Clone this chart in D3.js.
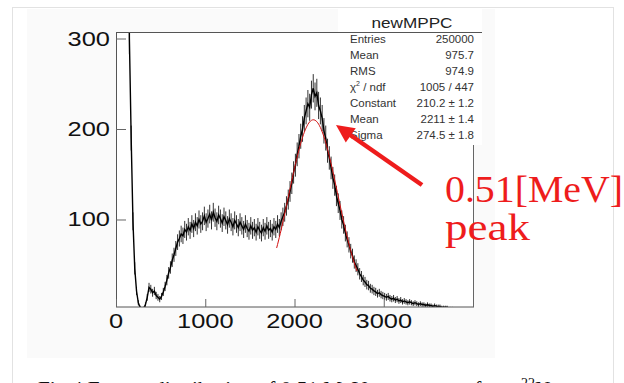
<!DOCTYPE html>
<html><head><meta charset="utf-8">
<script src="https://cdn.jsdelivr.net/npm/d3@7"></script>
<style>html,body{margin:0;padding:0;background:#fff;}svg{display:block;}</style>
</head><body>
<svg id="c" width="624" height="383"></svg>
<script>
// ---- data ----
const binWidth = 20;
const binStart = 0;
const counts = [
 900,2500,3000,2600,1900,1200,650,300,190,98,
 46,21,8,3,1,2,6,14,25,23,
 19,21,16,14,12,15,20,26,33,41,
 47,55,61,68,75,79,84,82,89,86,
 92,88,95,90,97,93,100,95,98,104,
 97,101,106,99,108,102,98,105,101,96,
 103,99,94,101,97,92,99,95,91,97,
 93,89,95,90,87,93,88,91,86,92,
 88,85,91,87,93,88,90,86,92,89,
 95,91,98,103,108,115,122,131,140,152,
 160,172,181,192,200,212,220,228,224,238,
 245,236,240,226,220,212,198,190,176,168,
 157,146,138,126,118,110,100,94,85,78,
 72,65,60,53,49,45,40,37,33,31,
 28,27,24,23,21,20,18,19,17,16,
 15,14,15,13,12,13,11,12,10,11,
 9,10,9,8,9,8,7,8,7,6,
 7,6,6,5,6,5,5,4,5,4,
 4,4,3,3,3,3,2,2,2,1,
 1,1,1,0,0,0,0,0,0,0
];
const xTicks = [0, 1000, 2000, 3000];
const yTicks = [100, 200, 300];
const xDomain = [0, 4000];
const yDomain = [3.3, 307.2];
const fitConstant = 210.2, fitMean = 2211, fitSigma = 274.5;
const fitRange = [1800, 2700];
const statsTitle = "newMPPC";
const statLabels = ["Entries", "Mean", "RMS", "χ2 / ndf", "Constant", "Mean", "Sigma"];
const statValues = ["250000", "975.7", "974.9", "1005 / 447", "210.2 ± 1.2", "2211 ± 1.4", "274.5 ± 1.8"];
const annotLines = ["0.51[MeV]", "peak"];

// ---- drawing ----
const svg = d3.select("#c");
svg.append("rect").attr("x",12.5).attr("y",7.5).attr("width",601).attr("height",380)
  .attr("fill","#fff").attr("stroke","#e2e2e2");
svg.append("rect").attr("x",27).attr("y",9).attr("width",468).attr("height",349).attr("fill","#fafafa");

const L=116, R=473, T=32, B=307;
const x = d3.scaleLinear().domain(xDomain).range([L,R]);
const y = d3.scaleLinear().domain(yDomain).range([B,T]);

svg.append("rect").attr("x",L).attr("y",T).attr("width",R-L).attr("height",B-T).attr("fill","#fff");

svg.append("defs").append("clipPath").attr("id","clip")
  .append("rect").attr("x",L).attr("y",T).attr("width",R-L).attr("height",B-T);

const g = svg.append("g").attr("clip-path","url(#clip)");
const bins = counts.map((c,i)=>({c, xc: binStart + binWidth*(i+0.5)}));
// error bars
g.selectAll("line.err").data(bins.filter(d=>d.c>0)).join("line")
  .attr("x1",d=>x(d.xc)).attr("x2",d=>x(d.xc))
  .attr("y1",d=>y(d.c+Math.sqrt(d.c))).attr("y2",d=>y(Math.max(0,d.c-Math.sqrt(d.c))))
  .attr("stroke","#333").attr("stroke-width",1);
// data line
g.append("path").datum(bins)
  .attr("d", d3.line().x(d=>x(d.xc)).y(d=>y(d.c)))
  .attr("fill","none").attr("stroke","#000").attr("stroke-width",1.4);
// fit
const fitPts = d3.range(fitRange[0], fitRange[1]+1, 10);
g.append("path").datum(fitPts)
  .attr("d", d3.line().x(v=>x(v)).y(v=>y(fitConstant*Math.exp(-((v-fitMean)**2)/(2*fitSigma*fitSigma)))))
  .attr("fill","none").attr("stroke","#d21010").attr("stroke-width",1);

// frame
svg.append("rect").attr("x",L+0.5).attr("y",T+0.5).attr("width",R-L).attr("height",B-T-0.5)
  .attr("fill","none").attr("stroke","#555").attr("stroke-width",1);

// axes ticks
const xAxis = d3.axisBottom(x).tickValues(xTicks).tickSize(-8).tickFormat("");
const ax = svg.append("g").attr("transform",`translate(0,${B})`).call(xAxis);
ax.select(".domain").remove();
ax.selectAll("line").attr("stroke","#666");
const yAxis = d3.axisLeft(y).tickValues(yTicks).tickSize(-10).tickFormat("");
const ay = svg.append("g").attr("transform",`translate(${L},0)`).call(yAxis);
ay.select(".domain").remove();
ay.selectAll("line").attr("stroke","#666");

// tick labels (stretched horizontally like the reference)
const lab = "'Liberation Sans', Arial, sans-serif";
xTicks.forEach(v=>{
  svg.append("text").attr("transform",`translate(${x(v)},328) scale(1.27,1)`)
    .attr("text-anchor","middle").attr("font-family",lab).attr("font-size",20).attr("fill","#111").text(v);
});
yTicks.forEach(v=>{
  svg.append("text").attr("transform",`translate(110,${y(v)+7}) scale(1.27,1)`)
    .attr("text-anchor","end").attr("font-family",lab).attr("font-size",20).attr("fill","#111").text(v);
});

// stats box
svg.append("rect").attr("x",338).attr("y",9).attr("width",144).attr("height",136).attr("fill","#fff");
svg.append("line").attr("x1",L).attr("x2",482).attr("y1",T+0.5).attr("y2",T+0.5).attr("stroke","#555");
svg.append("text").attr("x",412).attr("y",28).attr("text-anchor","middle")
  .attr("font-family",lab).attr("font-size",15).attr("textLength",81).attr("lengthAdjust","spacingAndGlyphs")
  .attr("fill","#222").text(statsTitle);
statLabels.forEach((s,i)=>{
  const t = svg.append("text").attr("x",350).attr("y",43+16*i)
    .attr("font-family",lab).attr("font-size",11.5).attr("fill","#333");
  if (s.startsWith("χ2")) {
    t.append("tspan").text("χ");
    t.append("tspan").attr("dy",-5).attr("font-size",7).text("2");
    t.append("tspan").attr("dy",5).text(" / ndf");
  } else t.text(s);
  svg.append("text").attr("x",474).attr("y",43+16*i).attr("text-anchor","end")
    .attr("font-family",lab).attr("font-size",11.5).attr("fill","#333").text(statValues[i]);
});

// frame right edge below the stats box
svg.append("line").attr("x1",R+0.5).attr("x2",R+0.5).attr("y1",145).attr("y2",B).attr("stroke","#666");

// annotation arrow
const red = "#ee1c1c";
const ax0=422, ay0=185, ax1=336, ay1=125;
const ang = Math.atan2(ay1-ay0, ax1-ax0);
const hl=20, hw=0.45;
svg.append("line").attr("x1",ax0).attr("y1",ay0)
  .attr("x2",ax1-Math.cos(ang)*10).attr("y2",ay1-Math.sin(ang)*10)
  .attr("stroke",red).attr("stroke-width",4.5);
svg.append("path").attr("d", d3.line()([
  [ax1,ay1],
  [ax1-hl*Math.cos(ang-hw), ay1-hl*Math.sin(ang-hw)],
  [ax1-hl*Math.cos(ang+hw), ay1-hl*Math.sin(ang+hw)]
])+"Z").attr("fill",red);

const serif = "'Liberation Serif', 'Times New Roman', serif";
svg.append("text").attr("x",445).attr("y",202).attr("font-family",serif).attr("font-size",37)
  .attr("textLength",178).attr("lengthAdjust","spacingAndGlyphs").attr("fill",red).text(annotLines[0]);
svg.append("text").attr("x",445).attr("y",240).attr("font-family",serif).attr("font-size",37)
  .attr("textLength",85).attr("lengthAdjust","spacingAndGlyphs").attr("fill",red).text(annotLines[1]);

// caption (cut off by the bottom edge, as in the reference)
const cap = svg.append("text").attr("x",38).attr("y",396).attr("font-family",serif).attr("font-size",21.3).attr("fill","#111");
cap.append("tspan").text("Fig.4 Energy distribution of 0.51 MeV gamma-ray from ");
cap.append("tspan").attr("dy",-8).attr("font-size",14).text("22");
cap.append("tspan").attr("dy",8).text("Na");
</script>
</body></html>
